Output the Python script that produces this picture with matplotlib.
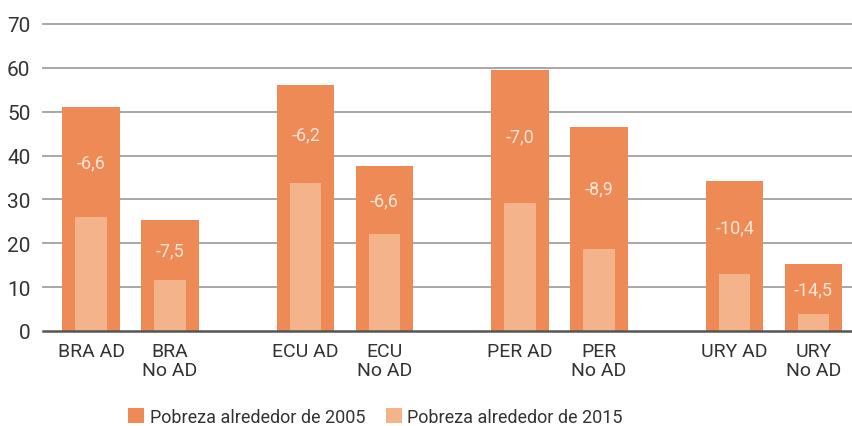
import matplotlib
matplotlib.use("Agg")
import matplotlib.pyplot as plt
from matplotlib.patches import Patch
import numpy as np

plt.rcParams['font.family'] = ['Roboto', 'DejaVu Sans']

categories = ["BRA AD", "BRA\nNo AD", "ECU AD", "ECU\nNo AD", "PER AD", "PER\nNo AD", "URY AD", "URY\nNo AD"]
pov_2005 = [51.0, 25.3, 56.1, 37.6, 59.5, 46.5, 34.2, 15.3]
pov_2015 = [26.0, 11.6, 33.7, 22.1, 29.2, 18.7, 13.0, 3.9]
change_labels = ["-6,6", "-7,5", "-6,2", "-6,6", "-7,0", "-8,9", "-10,4", "-14,5"]
yticks = [0, 10, 20, 30, 40, 50, 60, 70]
legend_labels = ["Pobreza alrededor de 2005", "Pobreza alrededor de 2015"]

dark = '#EE8A56'
light = '#F5B38C'
text_col = '#333333'

fig = plt.figure(figsize=(8.53, 4.27), dpi=100)
ax = fig.add_axes([0.0504, 0.2225, 0.9496, 0.719])

x = np.array([g * 2.72 + j for g in range(4) for j in range(2)])
ax.bar(x, pov_2005, width=0.73, color=dark, zorder=2)
ax.bar(x, pov_2015, width=0.40, color=light, zorder=3)

for xi, a, b, lab in zip(x, pov_2005, pov_2015, change_labels):
    ax.text(xi, (a + b) / 2, lab, ha='center', va='center', fontsize=13,
            color='#FDE6D6', zorder=4)

ax.set_ylim(0, 70)
ax.set_xlim(x[0] - 0.61, x[-1] + 0.5)
ax.set_yticks(yticks)
ax.set_yticklabels([str(t) for t in yticks], fontsize=15, color=text_col)
ax.set_xticks(x)
ax.set_xticklabels(categories, fontsize=14, color=text_col, linespacing=1.05)
ax.tick_params(axis='both', length=0)
ax.tick_params(axis='y', pad=9)
ax.tick_params(axis='x', pad=8)

for t in yticks[1:]:
    ax.axhline(t, color='#A0A0A0', lw=1.3, zorder=1, clip_on=False)
ax.axhline(0, color='#555555', lw=1.8, zorder=5, clip_on=False)

for s in ax.spines.values():
    s.set_visible(False)

for color, label, xpos in zip([dark, light], legend_labels, [0.150, 0.452]):
    fig.legend([Patch(facecolor=color)], [label], loc='center left',
               bbox_to_anchor=(xpos, 0.022), frameon=False, fontsize=13,
               handlelength=0.9, handleheight=0.9, handletextpad=0.3,
               labelcolor=text_col, borderpad=0, borderaxespad=0)

fig.savefig("out.png", dpi=100)
